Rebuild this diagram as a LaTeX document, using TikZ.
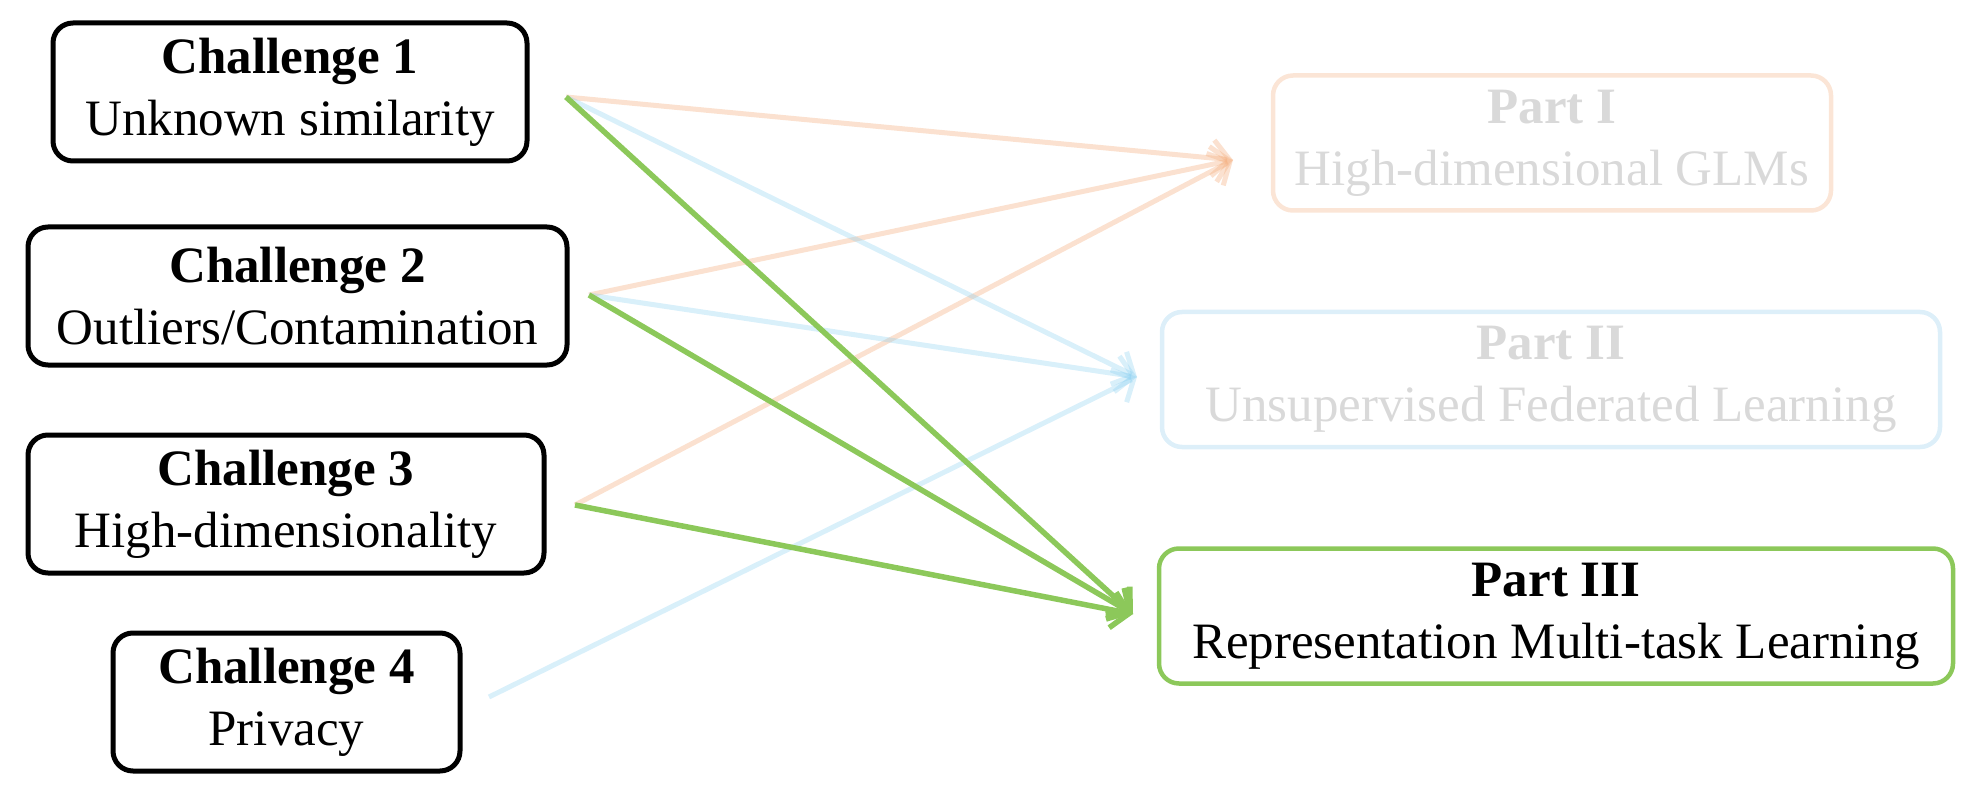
\documentclass[tikz,border=0pt]{standalone}
\usepackage{fontspec}
\setmainfont{Liberation Serif}
\usetikzlibrary{arrows.meta}
\definecolor{peachline}{HTML}{FBE5D6}
\definecolor{peacharrow}{HTML}{F4B183}
\definecolor{skyline}{HTML}{DDEFF9}
\definecolor{skyarrow}{HTML}{89CFF0}
\definecolor{leaf}{HTML}{8CC85A}
\definecolor{fadedtext}{HTML}{D9D9D9}
\begin{document}
\begin{tikzpicture}[x=1pt,y=-1pt,
  every node/.style={font=\fontsize{51}{62}\selectfont, align=center, inner sep=0pt},
  cbox/.style={draw=black, line width=5pt, rounded corners=20pt, minimum height=138pt},
  pbox/.style={line width=4.5pt, rounded corners=20pt, minimum height=135pt},
  toorange/.style={draw=peacharrow, draw opacity=0.38, line width=5pt,
    -{Straight Barb[length=17pt,width=36pt]}},
  toblue/.style={draw=skyarrow, draw opacity=0.32, line width=5pt,
    -{Straight Barb[length=17pt,width=36pt]}},
  togreen/.style={draw=leaf, line width=5.5pt,
    -{Straight Barb[length=17pt,width=36pt]}}]
\useasboundingbox (0,0) rectangle (1976,794);

% challenges
\node[cbox, minimum width=474pt] (c1) at (290,92) {\textbf{Challenge 1}\\Unknown similarity};
\node[cbox, minimum width=539pt] (c2) at (297.5,296) {\textbf{Challenge 2}\\Outliers/Contamination};
\node[cbox, minimum width=516pt] (c3) at (286,504) {\textbf{Challenge 3}\\High-dimensionality};
\node[cbox, minimum width=347pt] (c4) at (286.5,702) {\textbf{Challenge 4}\\Privacy};

% parts
\node[pbox, draw=peachline, minimum width=558pt, text=fadedtext] (p1) at (1552,143) {\textbf{Part I}\\High-dimensional GLMs};
\node[pbox, draw=skyline, minimum width=778pt, text=fadedtext] (p2) at (1551,379.5) {\textbf{Part II}\\Unsupervised Federated Learning};
\node[pbox, draw=leaf, minimum width=794pt] (p3) at (1556,616) {\textbf{Part III}\\ Representation Multi-task Learning};

% connector end points
\coordinate (s1) at (566,97);
\coordinate (s2) at (589,295);
\coordinate (s3) at (575,505);
\coordinate (s4) at (489,697);
\coordinate (e1) at (1233,160);
\coordinate (e2) at (1137,377);
\coordinate (e3) at (1133,614);

% faded links
\draw[toorange] (s1) -- (e1);
\draw[toorange] (s2) -- (e1);
\draw[toorange] (s3) -- (e1);
\draw[toblue] (s1) -- (e2);
\draw[toblue] (s2) -- (e2);
\draw[toblue] (s4) -- (e2);

% highlighted links
\draw[togreen] (s1) -- (e3);
\draw[togreen] (s2) -- (e3);
\draw[togreen] (s3) -- (e3);
\end{tikzpicture}
\end{document}
